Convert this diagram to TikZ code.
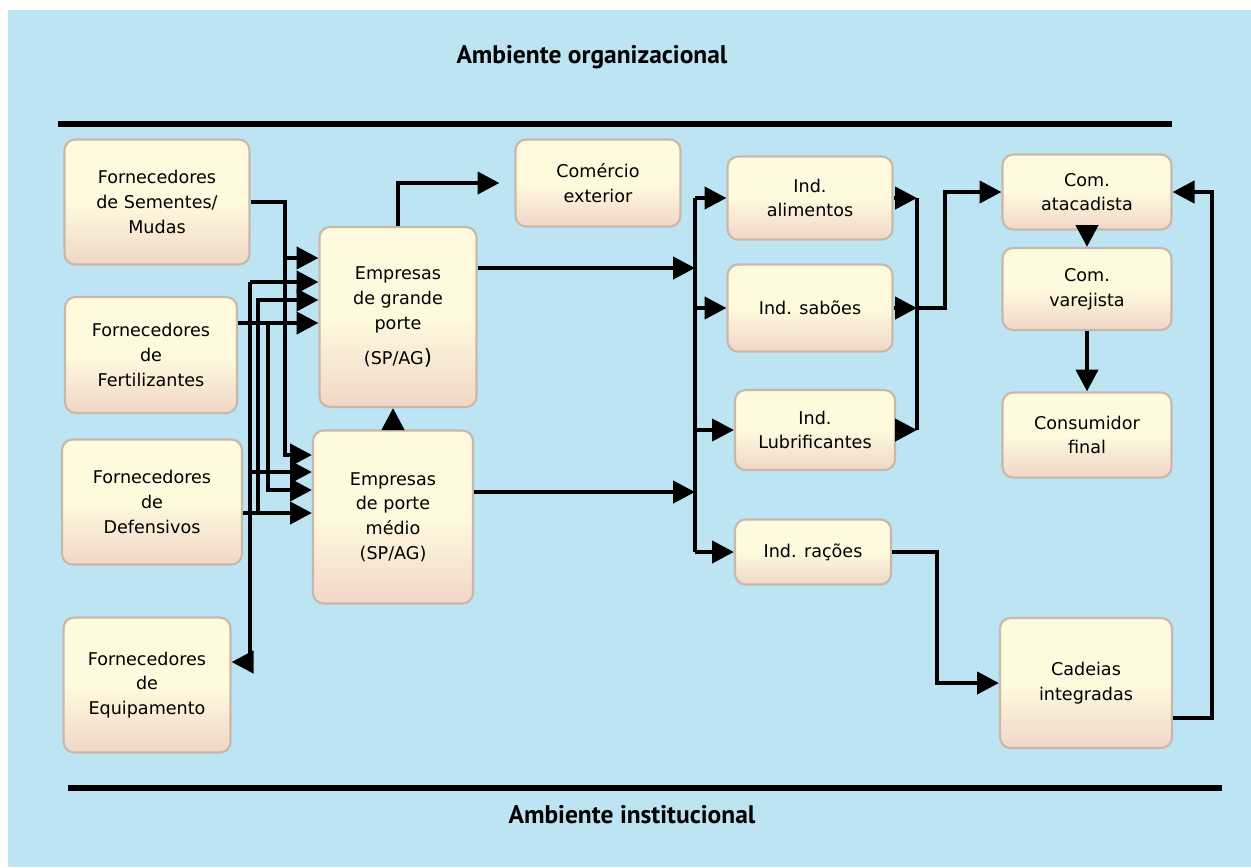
\documentclass[tikz,border=0pt]{standalone}
\usepackage{fontspec}
\setmainfont{DejaVu Sans}
\newfontfamily\titlefont{PT Sans}
\usetikzlibrary{arrows.meta}

\definecolor{bgblue}{RGB}{188,228,243}
\definecolor{boxtop}{RGB}{255,250,222}
\definecolor{boxbot}{RGB}{240,214,200}
\definecolor{boxedge}{RGB}{200,184,170}

\tikzset{
  box/.style={rounded corners=6pt, draw=boxedge, line width=1.2pt,
    top color=boxtop, bottom color=boxbot, middle color=boxtop,
    inner sep=0pt, align=center, font=\fontsize{10}{14}\selectfont},
  flow/.style={line width=2.5pt, -{Triangle[length=12.5pt,width=12.5pt]}},
  line/.style={line width=2.5pt},
  rule/.style={line width=3pt},
  title/.style={font=\titlefont\bfseries\fontsize{14.5}{17}\selectfont}
}

\begin{document}
\begin{tikzpicture}[x=0.02cm, y=-0.02cm]
  \useasboundingbox (0,0) rectangle (1251,867);
  \fill[white] (0,0) rectangle (1251,867);
  \fill[bgblue] (8,10) rectangle (1251,867);

  % ambientes
  \node[title] (torg) at (592,57) {Ambiente organizacional};
  \node[title] (tinst) at (632,815) {Ambiente institucional};
  \draw[rule] (58,124) -- (1172,124);
  \draw[rule] (68,788) -- (1222,788);

  % fornecedores
  \node[box, minimum width=3.7cm, minimum height=2.5cm] (sem) at (157,202) {Fornecedores\\de Sementes/\\Mudas};
  \node[box, minimum width=3.44cm, minimum height=2.32cm] (fer) at (151,355) {Fornecedores\\de\\Fertilizantes};
  \node[box, minimum width=3.6cm, minimum height=2.5cm] (def) at (152,502) {Fornecedores\\de\\Defensivos};
  \node[box, minimum width=3.34cm, minimum height=2.7cm] (equ) at (147,685) {Fornecedores\\de\\Equipamento};

  % empresas
  \node[box, minimum width=3.14cm, minimum height=3.6cm] (gra) at (398,317) {Empresas\\de grande\\porte\\[6pt](SP/AG{\large )}};
  \node[box, minimum width=3.2cm, minimum height=3.46cm] (med) at (393,517) {Empresas\\de porte\\médio\\(SP/AG)};
  \node[box, minimum width=3.3cm, minimum height=1.74cm] (ext) at (598,183) {Comércio\\exterior};

  % industrias
  \node[box, minimum width=3.3cm, minimum height=1.66cm] (ali) at (810,198) {Ind.\\alimentos};
  \node[box, minimum width=3.3cm, minimum height=1.74cm] (sab) at (810,308) {Ind. sabões};
  \node[box, minimum width=3.2cm, minimum height=1.6cm] (lub) at (815,430) {Ind.\\Lubrificantes};
  \node[box, minimum width=3.12cm, minimum height=1.3cm] (rac) at (813,552) {Ind. rações};

  % comercio
  \node[box, minimum width=3.38cm, minimum height=1.5cm] (ata) at (1087,192) {Com.\\atacadista};
  \node[box, minimum width=3.38cm, minimum height=1.64cm] (var) at (1087,289) {Com.\\varejista};
  \node[box, minimum width=3.38cm, minimum height=1.7cm] (con) at (1087,435) {Consumidor\\final};
  \node[box, minimum width=3.44cm, minimum height=2.6cm] (cad) at (1086,683) {Cadeias\\integradas};

  \coordinate (tsem) at (285,0);
  \coordinate (tfer) at (268,0);
  \coordinate (tdef) at (258,0);
  \coordinate (tequ) at (250,0);
  \coordinate (busL) at (695,0);
  \coordinate (busR) at (917,0);
  \coordinate (jn) at (945,0);
  \coordinate (jr) at (937,0);
  \coordinate (jc) at (1212,0);

  % insumos
  \draw[flow] (sem.east) -| (tsem |- 0,455) -- (med.west |- 0,455);
  \draw[flow] (tsem |- 0,258) -- (gra.west |- 0,258);
  \draw[flow] (fer.east |- 0,323) -- (gra.west |- 0,323);
  \draw[flow] (tfer |- 0,323) |- (med.west |- 0,490);
  \draw[flow] (def.east |- 0,513) -- (med.west |- 0,513);
  \draw[flow] (tdef |- 0,513) |- (gra.west |- 0,300);
  \draw[flow] (tequ |- 0,282) |- (equ.east |- 0,662);
  \draw[flow] (tequ |- 0,282) -- (gra.west |- 0,282);
  \draw[flow] (tequ |- 0,472) -- (med.west |- 0,472);

  % empresas
  \draw[flow] (gra.north) |- ([xshift=-0.3cm]ext.west);
  \draw[flow] (med.north) -- (med.north |- gra.south);
  \draw[flow] (gra.east |- 0,268) -- (busL |- 0,268);
  \draw[flow] (med.east |- 0,492) -- (busL |- 0,492);

  % industrias
  \draw[line] (busL |- ali.west) -- (busL |- rac.west);
  \foreach \n in {ali,sab,lub,rac}
    \draw[flow] (busL |- \n.west) -- (\n.west);
  \draw[line] (busR |- ali.east) -- (busR |- lub.east);
  \foreach \n in {ali,sab,lub}
    \draw[flow] (\n.east) -- (busR |- \n.east);
  \draw[flow] (busR |- sab.east) -| (jn |- ata.west) -- (ata.west);
  \draw[flow] (rac.east) -| (jr |- cad.west) -- (cad.west);

  % comercio
  \draw[flow] ([yshift=-0.7cm]cad.east) -| (jc |- ata.east) -- (ata.east);
  \draw[flow] (ata.south) -- (var.north);
  \draw[flow] (var.south) -- (con.north);
\end{tikzpicture}
\end{document}
